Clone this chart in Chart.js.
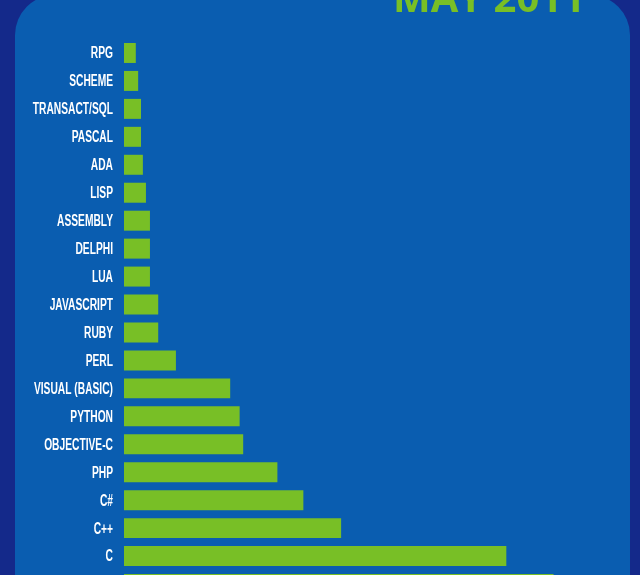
<!DOCTYPE html>
<html>
<head>
<meta charset="utf-8">
<script src="https://cdn.jsdelivr.net/npm/chart.js@4"></script>
<style>
  html, body {
    margin: 0;
    padding: 0;
    background: #14298a;
    width: 640px;
    height: 575px;
    overflow: hidden;
  }
  #wrap {
    position: relative;
    width: 640px;
    height: 600px;
  }
</style>
</head>
<body>
<div id="wrap">
  <canvas id="langChart" style="width:640px;height:600px"></canvas>
</div>
<script>
// Languages, top to bottom as drawn
const languages = [
  "RPG", "SCHEME", "TRANSACT/SQL", "PASCAL", "ADA", "LISP", "ASSEMBLY",
  "DELPHI", "LUA", "JAVASCRIPT", "RUBY", "PERL", "VISUAL (BASIC)", "PYTHON",
  "OBJECTIVE-C", "PHP", "C#", "C++", "C", "JAVA"
];

// Share (%)
const shares = [
  0.5, 0.6, 0.72, 0.72, 0.8, 0.93, 1.1,
  1.1, 1.1, 1.45, 1.45, 2.2, 4.5, 4.9,
  5.05, 6.5, 7.6, 9.2, 16.2, 18.2
];

const chartTitle = "MAY 2011";

// Colours
const navy = "#14298a";
const panelBlue = "#0a5db0";
const green = "#78bf26";

// Draws the rounded blue panel and the title behind the chart
const panelPlugin = {
  id: "panelPlugin",
  beforeDraw(chart) {
    const ctx = chart.ctx;
    ctx.save();
    ctx.fillStyle = navy;
    ctx.fillRect(0, 0, chart.width, chart.height);
    ctx.fillStyle = panelBlue;
    ctx.beginPath();
    ctx.roundRect(15, -5, 615, 700, 40);
    ctx.fill();

    ctx.fillStyle = green;
    ctx.font = "bold 40px 'Open Sans', 'Noto Sans', sans-serif";
    ctx.textAlign = "center";
    ctx.textBaseline = "alphabetic";
    ctx.fillText(chartTitle, 489, 12);
    ctx.restore();
  },
  // Category labels in a narrow, tall face: squeeze the text horizontally
  afterDraw(chart) {
    const ctx = chart.ctx;
    const yScale = chart.scales.y;
    const right = yScale.right - 11;
    const squeeze = 0.64;
    ctx.save();
    ctx.fillStyle = "#ffffff";
    ctx.font = "bold 16px 'Liberation Sans', Arial, sans-serif";
    ctx.textAlign = "right";
    ctx.textBaseline = "middle";
    yScale.ticks.forEach((tick, i) => {
      const y = yScale.getPixelForTick(i) + 1;
      ctx.save();
      ctx.translate(right, y);
      ctx.scale(squeeze, 1);
      ctx.fillText(languages[tick.value], 0, 0);
      ctx.restore();
    });
    ctx.restore();
  },
};

const ctx = document.getElementById("langChart").getContext("2d");

new Chart(ctx, {
  type: "bar",
  data: {
    labels: languages,
    datasets: [
      {
        data: shares,
        backgroundColor: green,
        borderWidth: 0,
        barPercentage: 0.715,
        categoryPercentage: 1,
      },
    ],
  },
  options: {
    indexAxis: "y",
    responsive: false,
    maintainAspectRatio: false,
    animation: false,
    layout: {
      padding: { top: 39, bottom: 2, left: 0, right: 44 },
    },
    plugins: {
      legend: { display: false },
      tooltip: { enabled: false },
    },
    scales: {
      x: {
        min: 0,
        max: 20,
        display: false,
      },
      y: {
        grid: { display: false, drawTicks: false },
        border: { display: false },
        ticks: {
          display: false,
        },
        afterFit(scale) {
          scale.width = 124;
        },
      },
    },
  },
  plugins: [panelPlugin],
});
</script>
</body>
</html>
